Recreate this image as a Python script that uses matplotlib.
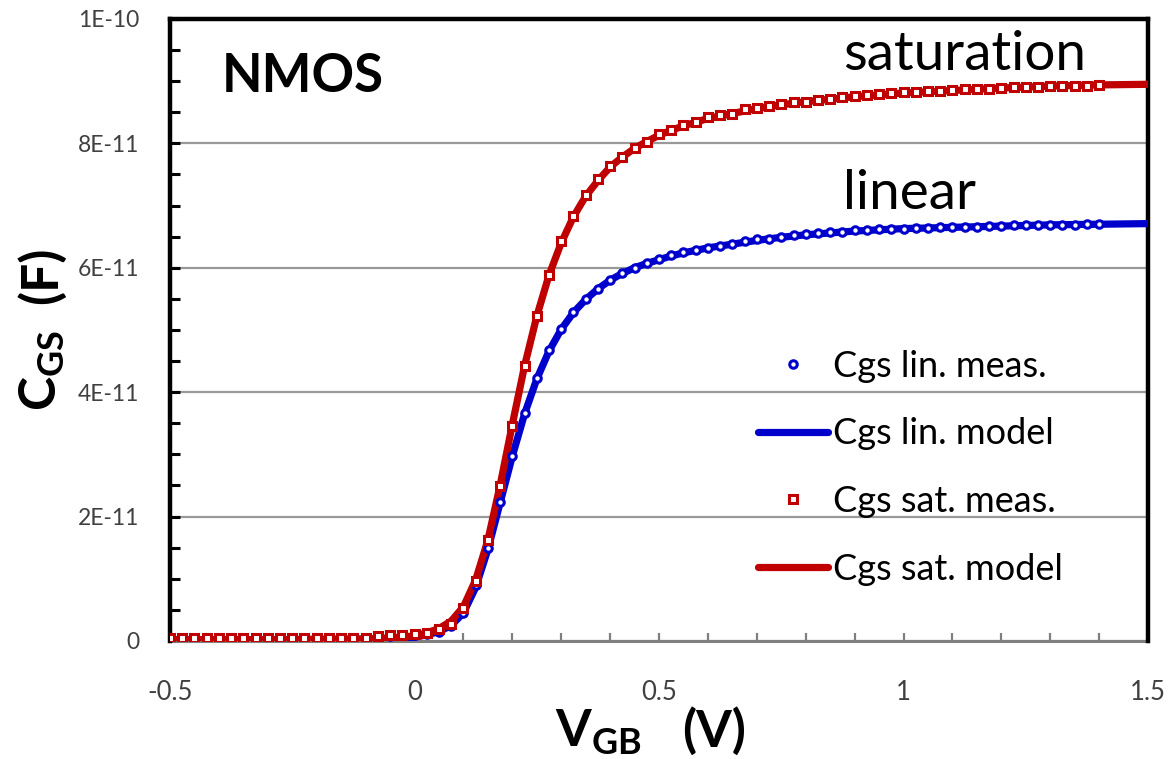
import matplotlib
matplotlib.use("Agg")
import matplotlib.pyplot as plt
from matplotlib.ticker import FixedLocator, FuncFormatter
from matplotlib.lines import Line2D

# gate bias sweep of the measurements (V)
x_meas = [-0.5, -0.475, -0.45, -0.425, -0.4, -0.375, -0.35, -0.325, -0.3, -0.275,
          -0.25, -0.225, -0.2, -0.175, -0.15, -0.125, -0.1, -0.075, -0.05, -0.025,
          0.0, 0.025, 0.05, 0.075, 0.1, 0.125, 0.15, 0.175, 0.2, 0.225,
          0.25, 0.275, 0.3, 0.325, 0.35, 0.375, 0.4, 0.425, 0.45, 0.475,
          0.5, 0.525, 0.55, 0.575, 0.6, 0.625, 0.65, 0.675, 0.7, 0.725,
          0.75, 0.775, 0.8, 0.825, 0.85, 0.875, 0.9, 0.925, 0.95, 0.975,
          1.0, 1.025, 1.05, 1.075, 1.1, 1.125, 1.15, 1.175, 1.2, 1.225,
          1.25, 1.275, 1.3, 1.325, 1.35, 1.375, 1.4]

# measured Cgs, in units of 1E-11 F
cgs_lin_meas = [0.03, 0.03, 0.03, 0.03, 0.03, 0.03, 0.03, 0.03, 0.03, 0.03,
                0.03, 0.03, 0.03, 0.03, 0.03, 0.03, 0.03, 0.07, 0.08, 0.09,
                0.10, 0.11, 0.15, 0.24, 0.45, 0.90, 1.50, 2.24, 2.98, 3.66,
                4.22, 4.68, 5.02, 5.29, 5.50, 5.66, 5.81, 5.91, 5.99, 6.07,
                6.14, 6.20, 6.25, 6.29, 6.32, 6.35, 6.38, 6.43, 6.46, 6.47,
                6.50, 6.52, 6.54, 6.56, 6.57, 6.58, 6.60, 6.61, 6.62, 6.62,
                6.63, 6.64, 6.64, 6.65, 6.65, 6.66, 6.66, 6.67, 6.67, 6.68,
                6.68, 6.68, 6.69, 6.69, 6.69, 6.70, 6.70]

cgs_sat_meas = [0.04, 0.04, 0.04, 0.04, 0.04, 0.04, 0.04, 0.04, 0.04, 0.04,
                0.04, 0.04, 0.04, 0.04, 0.04, 0.04, 0.04, 0.08, 0.09, 0.10,
                0.11, 0.13, 0.19, 0.28, 0.53, 0.97, 1.63, 2.49, 3.46, 4.42,
                5.23, 5.89, 6.43, 6.84, 7.17, 7.42, 7.63, 7.78, 7.93, 8.03,
                8.15, 8.22, 8.30, 8.34, 8.42, 8.45, 8.48, 8.55, 8.57, 8.60,
                8.64, 8.66, 8.67, 8.70, 8.72, 8.75, 8.76, 8.77, 8.79, 8.81,
                8.82, 8.83, 8.84, 8.85, 8.86, 8.87, 8.87, 8.88, 8.89, 8.90,
                8.90, 8.91, 8.92, 8.92, 8.93, 8.93, 8.94]

# model curves
x_model = [-0.5, -0.3, -0.1, -0.05, 0.0, 0.025, 0.05, 0.075, 0.1, 0.125,
           0.15, 0.175, 0.2, 0.225, 0.25, 0.275, 0.3, 0.325, 0.35, 0.375,
           0.4, 0.425, 0.45, 0.475, 0.5, 0.525, 0.55, 0.575, 0.6, 0.625,
           0.65, 0.675, 0.7, 0.75, 0.8, 0.9, 1.0, 1.1, 1.2, 1.3, 1.4, 1.5]

cgs_lin_model = [0.02, 0.02, 0.03, 0.04, 0.06, 0.10, 0.15, 0.25, 0.45, 0.86,
                 1.47, 2.22, 2.97, 3.65, 4.21, 4.66, 5.01, 5.28, 5.49, 5.66,
                 5.80, 5.91, 6.00, 6.07, 6.13, 6.19, 6.24, 6.28, 6.32, 6.35,
                 6.38, 6.41, 6.44, 6.49, 6.53, 6.59, 6.63, 6.65, 6.67, 6.69,
                 6.70, 6.71]

cgs_sat_model = [0.02, 0.02, 0.03, 0.05, 0.08, 0.13, 0.20, 0.32, 0.55, 0.98,
                 1.62, 2.50, 3.48, 4.42, 5.22, 5.88, 6.40, 6.82, 7.15, 7.40,
                 7.62, 7.78, 7.92, 8.03, 8.13, 8.21, 8.28, 8.34, 8.40, 8.44,
                 8.48, 8.52, 8.56, 8.62, 8.67, 8.75, 8.81, 8.85, 8.89, 8.92,
                 8.94, 8.95]

x_major = [-0.5, 0.0, 0.5, 1.0, 1.5]
x_minor = [-0.4, -0.3, -0.2, -0.1, 0.1, 0.2, 0.3, 0.4, 0.6, 0.7, 0.8, 0.9,
           1.1, 1.2, 1.3, 1.4]
y_major = [0, 2e-11, 4e-11, 6e-11, 8e-11, 1e-10]
y_minor = [0.5e-11, 1e-11, 1.5e-11, 2.5e-11, 3e-11, 3.5e-11, 4.5e-11, 5e-11,
           5.5e-11, 6.5e-11, 7e-11, 7.5e-11, 8.5e-11, 9e-11, 9.5e-11]

scale = 1e-11
blue = "#0000CC"
red = "#C00000"
ms_o, ms_s, mew = 5.4, 5.6, 2.2

plt.rcParams["font.family"] = ["Lato", "DejaVu Sans"]
plt.rcParams["axes.unicode_minus"] = False
plt.rcParams["mathtext.fontset"] = "custom"
plt.rcParams["mathtext.rm"] = "Lato"
plt.rcParams["mathtext.bf"] = "Lato:bold"

fig = plt.figure(figsize=(11.74, 7.59), dpi=100)
ax = fig.add_axes([0.1448, 0.1555, 0.8331, 0.8195])

# model lines below, measured markers on top
ax.plot(x_model, [v * scale for v in cgs_lin_model], color=blue, lw=5.2,
        solid_capstyle="round", zorder=3)
ax.plot(x_model, [v * scale for v in cgs_sat_model], color=red, lw=5.2,
        solid_capstyle="round", zorder=4)
ax.plot(x_meas, [v * scale for v in cgs_lin_meas], ls="none", marker="o", ms=ms_o,
        mew=mew, mec=blue, mfc="white", zorder=5)
ax.plot(x_meas, [v * scale for v in cgs_sat_meas], ls="none", marker="s", ms=ms_s,
        mew=mew, mec=red, mfc="white", zorder=6)

ax.set_xlim(-0.5, 1.5)
ax.set_ylim(0, 1e-10)

ax.xaxis.set_major_locator(FixedLocator(x_major))
ax.xaxis.set_minor_locator(FixedLocator(x_minor))
ax.yaxis.set_major_locator(FixedLocator(y_major))
ax.yaxis.set_minor_locator(FixedLocator(y_minor))
ax.xaxis.set_major_formatter(FuncFormatter(lambda v, p: f"{v:g}"))
ax.yaxis.set_major_formatter(FuncFormatter(lambda v, p: "0" if abs(v) < 1e-15 else f"{v:.0E}"))

ax.grid(axis="y", color="#999999", lw=1.6, zorder=1)
ax.set_axisbelow(True)

for side in ["left", "top", "right"]:
    ax.spines[side].set_linewidth(3.2)
    ax.spines[side].set_color("black")
ax.spines["bottom"].set_linewidth(2.2)
ax.spines["bottom"].set_color("#7f7f7f")
ax.spines["bottom"].set_zorder(2)

ax.tick_params(axis="y", which="both", direction="in", color="black", width=2.2,
               length=7, labelsize=16.5, labelcolor="#404040", pad=22)
ax.tick_params(axis="x", which="both", direction="in", color="#7f7f7f", width=1.6,
               length=6, labelsize=18.5, labelcolor="#404040", pad=28)

# annotations inside the plot
ax.text(-0.395, 8.83e-11, "NMOS", fontsize=38, fontweight="bold", va="baseline")
ax.text(0.877, 9.18e-11, "saturation", fontsize=39.5, va="baseline")
ax.text(0.877, 6.95e-11, "linear", fontsize=39.5, va="baseline")

# axis titles, built from pieces to keep the wide gap before the unit
fig.text(642 / 1174, 1 - 747 / 759, r"$\mathbf{V_{GB}}$", fontsize=37,
         ha="right", va="baseline")
fig.text(682 / 1174, 1 - 747 / 759, "(V)", fontsize=37, fontweight="bold",
         ha="left", va="baseline")
fig.text(57 / 1174, 1 - 370 / 759, r"$\mathbf{C_{GS}}$", fontsize=37,
         ha="center", va="baseline", rotation=90, rotation_mode="anchor")
fig.text(57 / 1174, 1 - 275 / 759, "(F)", fontsize=37, fontweight="bold",
         ha="center", va="baseline", rotation=90, rotation_mode="anchor")

handles = [
    Line2D([], [], ls="none", marker="o", ms=ms_o, mew=mew, mec=blue, mfc="white"),
    Line2D([], [], color=blue, lw=5.2, solid_capstyle="round"),
    Line2D([], [], ls="none", marker="s", ms=ms_s, mew=mew, mec=red, mfc="white"),
    Line2D([], [], color=red, lw=5.2, solid_capstyle="round"),
]
labels = ["Cgs lin. meas.", "Cgs lin. model", "Cgs sat. meas.", "Cgs sat. model"]
fig.legend(handles, labels, loc="upper left", bbox_to_anchor=(0.6457, 0.5395),
           bbox_transform=fig.transFigure, frameon=False, fontsize=26,
           handlelength=1.95, handletextpad=0.12, labelspacing=0.96,
           borderpad=0, borderaxespad=0)

fig.savefig("out.png", dpi=100)
